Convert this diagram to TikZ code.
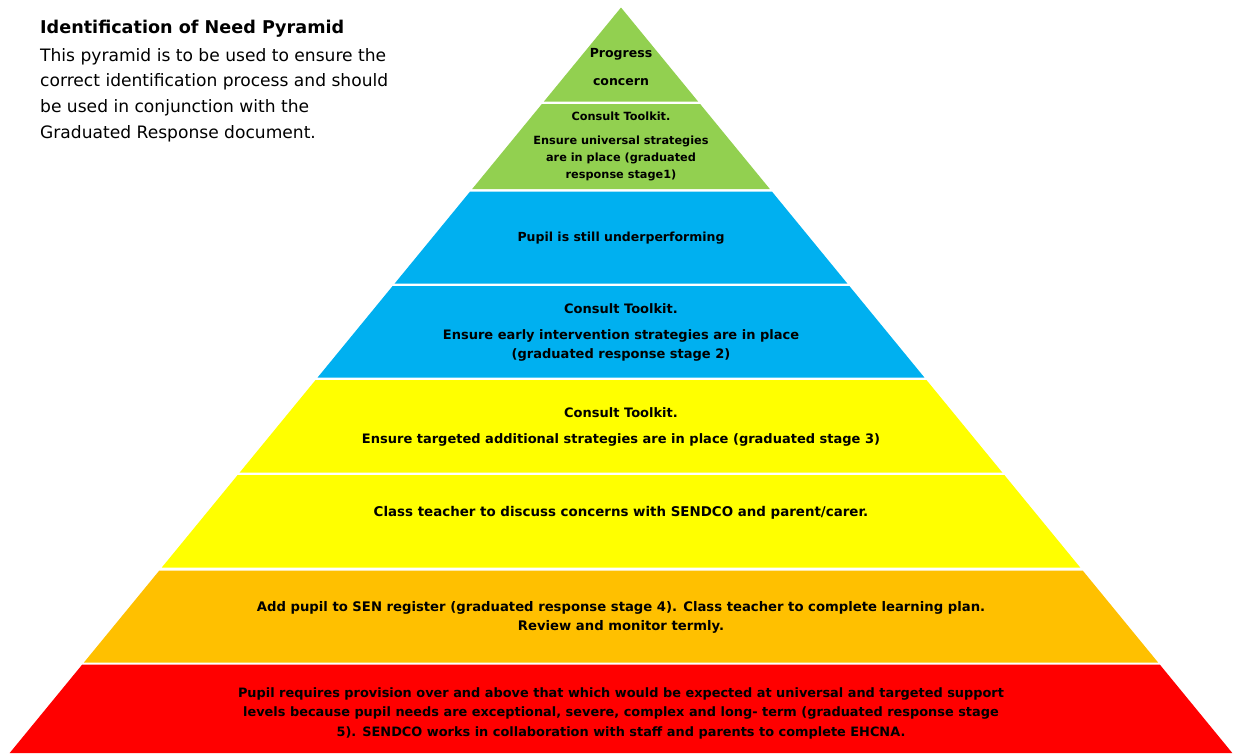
\documentclass[tikz,border=0pt]{standalone}
\usepackage{fontspec}
\setmainfont{DejaVu Sans}
\usetikzlibrary{positioning}
\definecolor{lvlgreen}{RGB}{146,208,80}
\definecolor{lvlblue}{RGB}{0,176,240}
\definecolor{lvlyellow}{RGB}{255,255,0}
\definecolor{lvlorange}{RGB}{255,192,0}
\definecolor{lvlred}{RGB}{255,0,0}

% one band of the pyramid: top y, bottom y, colour (apex at 621,7.5)
\newcommand{\layer}[3]{%
  \fill[#3] ({621-(#1-7.5)*0.82},#1) -- ({621+(#1-7.5)*0.82},#1)
    -- ({621+(#2-7.5)*0.82},#2) -- ({621-(#2-7.5)*0.82},#2) -- cycle;}

\begin{document}
\begin{tikzpicture}[
    x=1pt, y=-1pt,
    lbl/.style={font=\fontsize{13}{19}\selectfont\bfseries, align=center, inner sep=0pt},
    small/.style={font=\fontsize{12.5}{19}\selectfont\bfseries},
    tight/.style={font=\fontsize{11.3}{17}\selectfont\bfseries}
  ]
  \useasboundingbox (0,0) rectangle (1242,753);

  % Heading and note
  \node[anchor=base west, inner sep=0pt, font=\fontsize{17.6}{20}\selectfont\bfseries] (title) at (40,33) {Identification of Need Pyramid};
  \node[anchor=north west, inner sep=0pt, align=left, font=\fontsize{17.1}{25.8}\selectfont] (note) at (40,48) {
    This pyramid is to be used to ensure the\\
    correct identification process and should\\
    be used in conjunction with the\\
    Graduated Response document.
  };

  % Pyramid bands, top to bottom
  \layer{7.5}{101.5}{lvlgreen}
  \layer{104}{189}{lvlgreen}
  \layer{191.5}{283.5}{lvlblue}
  \layer{286}{377.5}{lvlblue}
  \layer{380}{472.5}{lvlyellow}
  \layer{475}{567.5}{lvlyellow}
  \layer{570.5}{662.5}{lvlorange}
  \layer{664.5}{753}{lvlred}

  % Band texts
  \node[lbl, small] (progress) at (621,67) {Progress\\[9pt]concern};
  \node[lbl, tight] (universal) at (621,146) {Consult Toolkit.\\[7pt]Ensure universal strategies\\are in place (graduated\\response stage1)};
  \node[lbl, small] (under) at (621,238) {Pupil is still underperforming};
  \node[lbl] (early) at (621,332) {Consult Toolkit.\\[7pt]Ensure early intervention strategies are in place\\(graduated response stage 2)};
  \node[lbl] (targeted) at (621,427) {Consult Toolkit.\\[7pt]Ensure targeted additional strategies are in place (graduated stage 3)};
  \node[lbl, font=\fontsize{13.4}{19}\selectfont\bfseries] (discuss) at (621,513) {Class teacher to discuss concerns with SENDCO and parent/carer.};
  \node[lbl, font=\fontsize{13.2}{19}\selectfont\bfseries] (register) at (621,617) {Add pupil to SEN register (graduated response stage 4). Class teacher to complete learning plan.\\Review and monitor termly.};
  \node[lbl, font=\fontsize{12.9}{19.5}\selectfont\bfseries] (ehcna) at (621,713) {Pupil requires provision over and above that which would be expected at universal and targeted support\\levels because pupil needs are exceptional, severe, complex and long- term (graduated response stage\\5). SENDCO works in collaboration with staff and parents to complete EHCNA.};
\end{tikzpicture}
\end{document}
